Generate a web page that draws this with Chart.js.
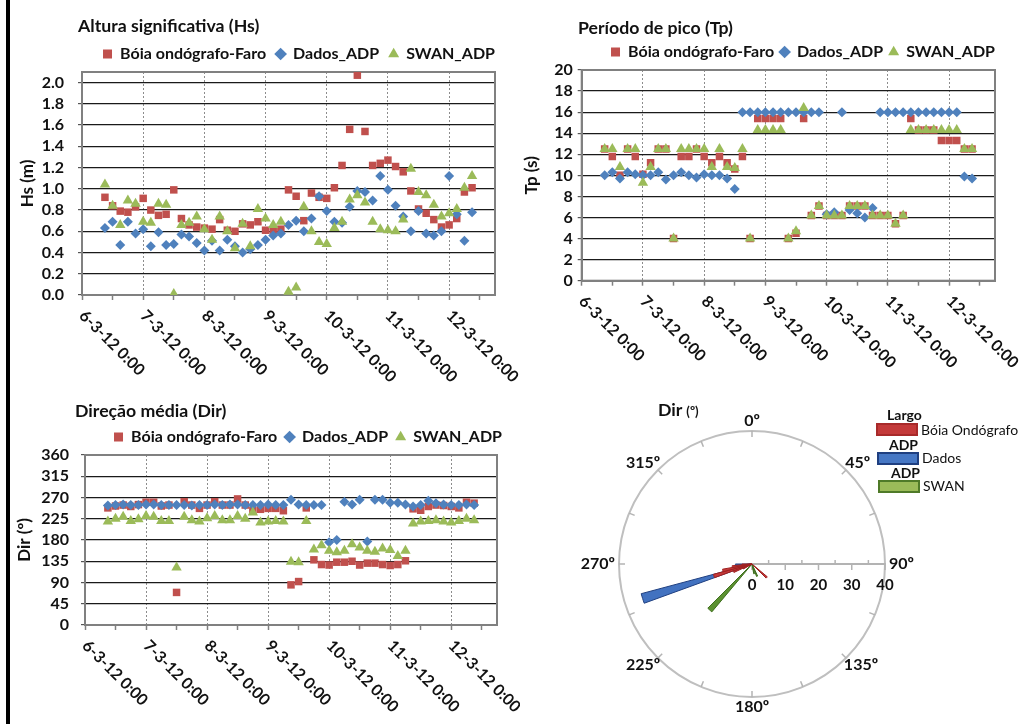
<!DOCTYPE html>
<html>
<head>
<meta charset="utf-8">
<script src="https://cdn.jsdelivr.net/npm/chart.js@4.4.1/dist/chart.umd.min.js"></script>
<style>
  html, body { margin: 0; padding: 0; background: #fff; }
  body { width: 1020px; height: 724px; position: relative; overflow: hidden; font-family: Lato, sans-serif; color: #111; }
  canvas { position: absolute; }
  .ttl { position: absolute; font-weight: bold; font-size: 17.7px; line-height: 20px; white-space: nowrap; }
  .lg { position: absolute; font-size: 14px; line-height: 17px; white-space: nowrap; }
  .lg.b { font-weight: bold; }
  .box { position: absolute; width: 38px; height: 9px; border: 2px solid; }
  #edge { position: absolute; left: 6px; top: 0; width: 4px; height: 724px; background: #000; }
</style>
</head>
<body>
<div id="edge"></div>
<canvas id="hs" width="510" height="395" style="left:10px;top:0"></canvas>
<canvas id="tp" width="500" height="395" style="left:520px;top:0"></canvas>
<canvas id="dir" width="510" height="325" style="left:10px;top:395px"></canvas>
<canvas id="rose" width="340" height="320" style="left:575px;top:400px"></canvas>

<div class="ttl" style="left:78px;top:16px">Altura significativa (Hs)</div>
<div class="ttl" style="left:578px;top:18px">Período de pico (Tp)</div>
<div class="ttl" style="left:75px;top:401px">Direção média (Dir)</div>
<div class="ttl" style="left:658px;top:400px">Dir <span style="font-size:13px">(º)</span></div>

<div class="lg b" style="left:887px;top:406px">Largo</div>
<div class="box" style="left:876px;top:423px;background:#c43a3a;border-color:#a82a2a"></div>
<div class="lg" style="left:921px;top:421px">Bóia Ondógrafo</div>
<div class="lg b" style="left:889px;top:436px">ADP</div>
<div class="box" style="left:877px;top:452px;background:#4677c4;border-color:#1f3f80"></div>
<div class="lg" style="left:922px;top:449px">Dados</div>
<div class="lg b" style="left:891px;top:464px">ADP</div>
<div class="box" style="left:878px;top:480px;background:#9bbb59;border-color:#4f7a28"></div>
<div class="lg" style="left:923px;top:477px">SWAN</div>

<script>
// hours after 6-3-12 0:00, one record every 3 h
const hours = [9, 12, 15, 18, 21, 24, 27, 30, 33, 36, 39, 42, 45, 48, 51, 54, 57, 60, 63, 66, 69, 72, 75, 78, 81,
  84, 87, 90, 93, 96, 99, 102, 105, 108, 111, 114, 117, 120, 123, 126, 129, 132, 135, 138, 141, 144, 147, 150, 153];
const dayLabels = ['6-3-12 0:00', '7-3-12 0:00', '8-3-12 0:00', '9-3-12 0:00', '10-3-12 0:00', '11-3-12 0:00', '12-3-12 0:00'];

// Altura significativa (m)
const hsBoia = [0.92, 0.84, 0.79, 0.78, 0.83, 0.91, 0.80, 0.75, 0.76, 0.99, 0.72, 0.66, 0.64, 0.63, 0.62, 0.71, 0.61, 0.60, 0.67, 0.66,
  0.69, 0.61, 0.61, 0.62, 0.99, 0.93, 0.70, 0.96, 0.92, 0.91, 1.01, 1.22, 1.56, 2.07, 1.54, 1.22, 1.24, 1.27, 1.21, 1.16,
  0.98, 0.81, 0.77, 0.71, 0.64, 0.66, 0.72, 0.97, 1.01];
const hsAdp = [0.63, 0.69, 0.47, 0.69, 0.58, 0.62, 0.46, 0.59, 0.47, 0.48, 0.57, 0.55, 0.49, 0.42, 0.51, 0.42, 0.52, 0.46, 0.40, 0.43,
  0.47, 0.52, 0.56, 0.58, 0.66, 0.70, 0.60, 0.72, 0.93, 0.79, 0.69, 0.68, 0.83, 0.98, 0.97, 0.89, 1.12, 0.99, 0.84, 0.74,
  0.60, 0.79, 0.58, 0.56, 0.60, 1.12, 0.76, 0.51, 0.78];
const hsSwan = [1.04, 0.84, 0.66, 0.89, 0.86, 0.69, 0.68, 0.86, 0.85, 0.01, 0.66, 0.68, 0.74, 0.62, 0.52, 0.74, 0.60, 0.44, 0.67, 0.46,
  0.81, 0.72, 0.66, 0.69, 0.03, 0.07, 0.83, 0.60, 0.50, 0.48, 0.63, 0.69, 0.90, 0.94, 0.87, 0.69, 0.62, 0.61, 0.60, 0.71,
  1.19, 0.97, 0.94, 0.85, 0.74, 0.77, 0.81, 1.01, 1.12];

// Periodo de pico (s)
const tpBoia = [12.5, 11.8, 10.0, 12.5, 11.8, 10.1, 11.2, 12.5, 12.5, 4.0, 11.8, 11.8, 12.5, 11.8, 11.2, 11.8, 11.2, 10.6, 11.8, 4.0,
  15.4, 15.4, 15.4, 15.4, 4.0, 4.5, 15.4, 6.2, 7.1, 6.2, 6.2, 6.2, 7.1, 7.1, 7.1, 6.2, 6.2, 6.2, 5.4, 6.2,
  15.4, 14.3, 14.3, 14.3, 13.3, 13.3, 13.3, 12.5, 12.5];
const tpAdp = [10.0, 10.3, 9.7, 10.3, 10.1, 10.0, 10.0, 10.3, 9.6, 10.0, 10.3, 10.0, 9.8, 10.1, 10.0, 10.0, 9.7, 8.7, 16, 16,
  16, 16, 16, 16, 16, 16, 16, 16, 16, 6.3, 6.5, 16, 6.7, 6.4, 6.0, 6.9, 16, 16, 16, 16,
  16, 16, 16, 16, 16, 16, 16, 9.9, 9.7];
const tpSwan = [12.5, 12.5, 10.8, 12.5, 12.5, 9.3, 10.8, 12.5, 12.5, 4.0, 12.5, 12.5, 12.5, 12.5, 10.8, 12.5, 10.8, 10.7, 12.5, 4.0,
  14.3, 14.3, 14.3, 14.3, 4.0, 4.7, 16.4, 6.2, 7.1, 6.2, 6.2, 6.2, 7.1, 7.1, 7.1, 6.2, 6.2, 6.2, 5.4, 6.2,
  14.3, 14.3, 14.3, 14.3, 14.3, 14.3, 14.3, 12.5, 12.5];

// Direcao media (graus)
const dirBoia = [248, 252, 254, 251, 255, 260, 260, 252, 254, 69, 261, 254, 247, 254, 261, 254, 254, 267, 254, 243,
  245, 247, 247, 242, 85, 92, 248, 138, 128, 127, 133, 133, 135, 127, 131, 131, 128, 126, 128, 136,
  246, 243, 251, 254, 253, 251, 248, 260, 258];
const dirAdp = [253, 254, 255, 254, 254, 255, 255, 254, 254, 254, 254, 253, 254, 254, 255, 254, 255, 255, 254, 254,
  254, 255, 254, 254, 265, 255, 254, 254, 254, 175, 180, 261, 255, 265, 177, 265, 265, 259, 259, 255,
  251, 254, 263, 258, 255, 254, 254, 255, 254];
const dirSwan = [219, 225, 229, 220, 224, 231, 229, 220, 220, 122, 229, 222, 219, 226, 231, 222, 222, 231, 225, 238,
  217, 219, 220, 219, 134, 133, 220, 160, 169, 157, 154, 157, 171, 164, 157, 155, 162, 159, 146, 157,
  215, 219, 220, 222, 219, 217, 220, 225, 222];

// Rosa de direcoes (frequencia, %), sectores de 5 graus
const roseSectors = Array.from({ length: 72 }, (_, i) => i * 5);
const roseBoiaDirs = [130, 240, 245, 250, 255, 260, 265];
const roseBoiaFreq = [6, 3, 6, 12, 9, 6, 3];
const roseAdpDirs = [245, 250, 255, 260, 265];
const roseAdpFreq = [3, 34.5, 6, 4, 5];
const roseSwanDirs = [155, 165, 220];
const roseSwanFreq = [4, 3, 18.8];
const compassAngles = [0, 45, 90, 135, 180, 225, 270, 315];
const compassLabels = ['0º', '45º', '90º', '135º', '180º', '225º', '270º', '315º'];
const roseAxisTicks = [0, 10, 20, 30, 40];

const RED = '#c0504d', BLUE = '#4f81bd', GREEN = '#9bbb59';
const FONT = 'Lato';
const INK = '#111';

function pts(ys) { return hours.map((h, i) => ({ x: h, y: ys[i] })); }

const plotFrame = {
  id: 'plotFrame',
  beforeDatasetsDraw(chart) {
    const a = chart.chartArea, ctx = chart.ctx;
    ctx.save();
    ctx.strokeStyle = '#808080';
    ctx.lineWidth = 2;
    ctx.strokeRect(a.left, a.top, a.right - a.left, a.bottom - a.top);
    ctx.restore();
  }
};

// day labels slanted downwards to the right, like the Excel original
const slantedDays = {
  id: 'slantedDays',
  afterDraw(chart) {
    const sx = chart.scales.x, ctx = chart.ctx;
    ctx.save();
    ctx.font = 'bold 16px ' + FONT;
    ctx.fillStyle = INK;
    ctx.textAlign = 'left';
    ctx.textBaseline = 'middle';
    sx.ticks.forEach(t => {
      if (t.value % 24 !== 0) return;
      const px = sx.getPixelForValue(t.value);
      ctx.save();
      ctx.translate(px, sx.top + 18);
      ctx.rotate(Math.PI / 4);
      ctx.fillText(dayLabels[t.value / 24], 0, 0);
      ctx.restore();
    });
    ctx.restore();
  }
};

function seriesChart(id, o) {
  return new Chart(document.getElementById(id), {
    type: 'scatter',
    data: {
      datasets: [
        { label: 'Bóia ondógrafo-Faro', data: pts(o.boia), pointStyle: 'rect', pointRadius: 5.3,
          backgroundColor: RED, borderColor: RED, borderWidth: 0, order: 3 },
        { label: 'Dados_ADP', data: pts(o.adp), pointStyle: 'rectRot', pointRadius: 5,
          backgroundColor: BLUE, borderColor: BLUE, borderWidth: 0, order: 2 },
        { label: 'SWAN_ADP', data: pts(o.swan), pointStyle: 'triangle', pointRadius: 6,
          backgroundColor: GREEN, borderColor: GREEN, borderWidth: 0, order: 1 }
      ]
    },
    options: {
      responsive: false,
      animation: false,
      events: [],
      layout: { padding: { left: o.padL, right: o.padR, top: o.padT, bottom: 0 } },
      plugins: {
        tooltip: { enabled: false },
        legend: {
          position: 'top',
          align: 'end',
          labels: {
            usePointStyle: true, boxWidth: 9, boxHeight: 9, padding: o.legPad,
            color: INK, font: { family: FONT, size: 16, weight: 'bold' },
            sort: (a, b) => a.datasetIndex - b.datasetIndex
          }
        }
      },
      scales: {
        x: {
          type: 'linear', min: 0, max: 162,
          ticks: { stepSize: 12, display: false, includeBounds: false, autoSkip: false },
          grid: {
            color: c => (c.tick && c.tick.value > 0 && c.tick.value % 24 === 0) ? '#8c8c8c' : 'rgba(0,0,0,0)',
            lineWidth: 1, tickLength: 5, tickColor: '#808080', tickWidth: 1.5
          },
          border: { color: '#808080', width: 2, dash: [2, 2] },
          afterFit: s => { s.height = o.xH; }
        },
        y: {
          min: 0, max: o.yMax,
          ticks: {
            stepSize: o.yStep, includeBounds: false, autoSkip: false, padding: o.tickPad, color: INK,
            font: { family: FONT, size: 16, weight: 'bold' },
            callback: v => o.yFmt(v)
          },
          title: { display: true, text: o.yTitle, color: INK, padding: 0, font: { family: FONT, size: 17, weight: 'bold' } },
          grid: { color: c => (c.tick && c.tick.value === 0) ? 'rgba(0,0,0,0)' : '#1a1a1a', lineWidth: 1.2, tickLength: 4, tickColor: '#555' },
          border: { color: '#808080', width: 2 },
          afterFit: s => { s.width = o.yW; }
        },
        yR: {
          position: 'right',
          grid: { display: false, drawTicks: false },
          ticks: { display: false },
          border: { display: false },
          afterFit: s => { s.width = o.gapR; }
        }
      }
    },
    plugins: [plotFrame, slantedDays]
  });
}

seriesChart('hs', {
  boia: hsBoia, adp: hsAdp, swan: hsSwan,
  yMax: 2.1, yStep: 0.2, yFmt: v => v.toFixed(1), yTitle: 'Hs (m)',
  padL: 7.8, padR: 15, padT: 36, legPad: 10, gapR: 10, yW: 64.2, xH: 100, tickPad: 14
});
seriesChart('tp', {
  boia: tpBoia, adp: tpAdp, swan: tpSwan,
  yMax: 20, yStep: 2, yFmt: v => String(v), yTitle: 'Tp (s)',
  padL: 1.8, padR: 19, padT: 38, legPad: 6, gapR: 6, yW: 59.9, xH: 114.3, tickPad: 5
});
seriesChart('dir', {
  boia: dirBoia, adp: dirAdp, swan: dirSwan,
  yMax: 360, yStep: 45, yFmt: v => String(v), yTitle: 'Dir (º)',
  padL: 4.8, padR: 10, padT: 26, legPad: 8, gapR: 13, yW: 70.2, xH: 95, tickPad: 12
});

// ---- rosa de direcoes ----
function roseSeries(dirs, freq) {
  return roseSectors.map(d => { const j = dirs.indexOf(d); return j < 0 ? 0 : freq[j]; });
}

const roseDecor = {
  id: 'roseDecor',
  beforeDatasetsDraw(chart) {
    const r = chart.scales.r, ctx = chart.ctx, R = r.drawingArea;
    const line = (a, b) => { ctx.beginPath(); ctx.moveTo(a.x, a.y); ctx.lineTo(b.x, b.y); ctx.stroke(); };
    ctx.save();
    ctx.strokeStyle = '#b3b3b3';
    ctx.lineWidth = 1.5;
    for (let a = 0; a < 360; a += 22.5) {
      const rad = a * Math.PI / 180;
      line(r.getPointPosition(0, R, rad), r.getPointPosition(0, R - 6, rad));
    }
    // eixo radial (para 90º)
    ctx.lineWidth = 2;
    line({ x: r.xCenter, y: r.yCenter }, r.getPointPosition(18, R));
    ctx.lineWidth = 1.5;
    for (let v = 0; v <= 40; v += 5) {
      const x = r.xCenter + r.getDistanceFromCenterForValue(v);
      const major = v % 10 === 0;
      line({ x, y: r.yCenter - (major ? 1 : 4) }, { x, y: r.yCenter + (major ? 6 : 0) });
    }
    ctx.restore();
  },
  afterDatasetsDraw(chart) {
    const r = chart.scales.r, ctx = chart.ctx, R = r.drawingArea;
    ctx.save();
    ctx.fillStyle = INK;
    ctx.textBaseline = 'middle';
    ctx.textAlign = 'center';
    ctx.font = 'bold 15px ' + FONT;
    roseAxisTicks.forEach(v => {
      ctx.fillText(String(v), r.xCenter + r.getDistanceFromCenterForValue(v), r.yCenter + 21);
    });
    ctx.font = 'bold 16px ' + FONT;
    compassAngles.forEach((deg, i) => {
      const p = r.getPointPosition(deg / 5, R + 4);
      const w = ctx.measureText(compassLabels[i]).width;
      ctx.fillText(compassLabels[i], p.x + Math.cos(p.angle) * w / 2, p.y + Math.sin(p.angle) * 6);
    });
    ctx.restore();
  }
};

const sectorBorder = c => (c.raw > 0 ? 1 : 0);
new Chart(document.getElementById('rose'), {
  type: 'polarArea',
  data: {
    labels: roseSectors.map(d => d + 'º'),
    datasets: [
      { label: 'Bóia Ondógrafo', data: roseSeries(roseBoiaDirs, roseBoiaFreq), backgroundColor: '#c43a3a', borderColor: '#9e2020', borderWidth: sectorBorder },
      { label: 'SWAN', data: roseSeries(roseSwanDirs, roseSwanFreq), backgroundColor: '#5b9130', borderColor: '#3f6e1e', borderWidth: sectorBorder },
      { label: 'Dados', data: roseSeries(roseAdpDirs, roseAdpFreq), backgroundColor: '#4272c0', borderColor: '#1f3f80', borderWidth: sectorBorder }
    ]
  },
  options: {
    responsive: false,
    animation: false,
    events: [],
    layout: { padding: { left: 44, right: 30, top: 31, bottom: 23 } },
    plugins: { legend: { display: false }, tooltip: { enabled: false } },
    scales: {
      r: {
        min: 0, max: 40, startAngle: 0,
        ticks: { display: false, stepSize: 10 },
        grid: { color: c => (c.tick && c.tick.value === 40) ? '#bfbfbf' : 'rgba(0,0,0,0)', lineWidth: 2 },
        angleLines: { display: false },
        pointLabels: { display: false }
      }
    }
  },
  plugins: [roseDecor]
});
</script>
</body>
</html>
